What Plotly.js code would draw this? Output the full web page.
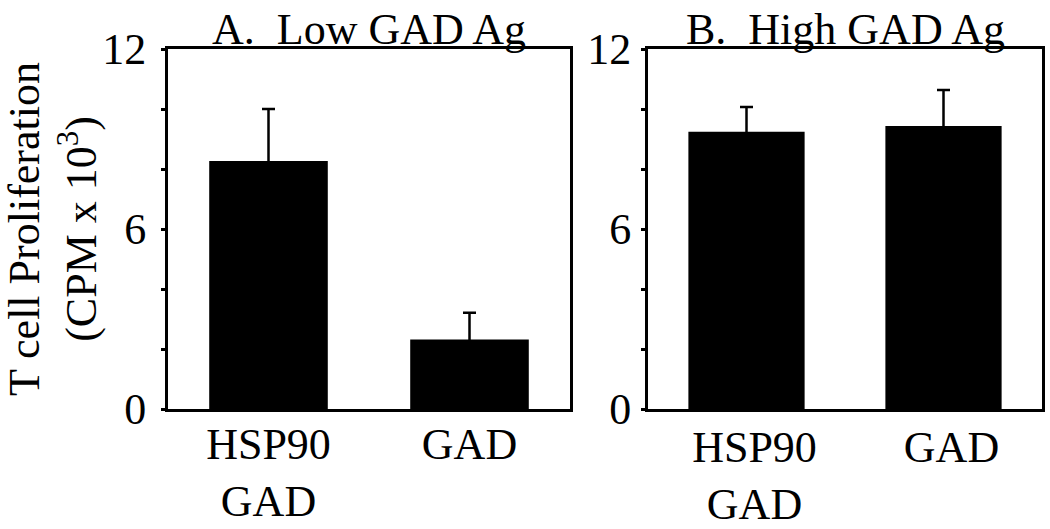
<!DOCTYPE html>
<html>
<head>
<meta charset="utf-8">
<script src="https://cdn.plot.ly/plotly-3.0.1.min.js"></script>
<style>html,body{margin:0;padding:0;background:#fff;}#chart{width:1050px;height:529px;}</style>
</head>
<body>
<div id="chart"></div>
<script>
// ---- data ----
const categories = ["HSP90<br>GAD", "GAD"];
const lowValues = [8.27, 2.32];
const lowErrors = [1.73, 0.89];
const highValues = [9.24, 9.43];
const highErrors = [0.83, 1.2];
const panelTitles = ["A.  Low GAD Ag", "B.  High GAD Ag"];
const yTickVals = [0, 2, 4, 6, 8, 10, 12];
const yTickText = ["0", "", "", "6", "", "", "12"];
const yTitle = "T cell Proliferation<br>(CPM x 10<sup>3</sup>)";

const FONT = "Liberation Serif, Times New Roman, serif";
const FS = 44;

function barTrace(vals, errs, xa, ya) {
  return {
    type: "bar",
    x: categories,
    y: vals,
    xaxis: xa,
    yaxis: ya,
    width: 0.59,
    marker: {color: "#000", line: {width: 0}},
    error_y: {
      // upper error only; the tiny lower offset just hides the lower cap inside the bar
      type: "data", symmetric: false, array: errs,
      arrayminus: errs.map(() => 0.08),
      color: "#000", thickness: 2.5, width: 6.5
    },
    showlegend: false,
    hoverinfo: "x+y"
  };
}

const data = [
  barTrace(lowValues, lowErrors, "x", "y"),
  barTrace(highValues, highErrors, "x2", "y2")
];

const W = 1050, H = 529;
const L = 168, R = 8, T = 49, B = 120;
const pw = W - L - R;
const dA = [0, (570 - L) / pw];
const dB = [(648 - L) / pw, 1];

function xAxis(domain, anchor, shift, standoff) {
  return {
    domain: domain, anchor: anchor, type: "category", range: [-0.5, 1.5],
    showline: true, mirror: true, linewidth: 3, linecolor: "#000",
    ticks: "", showgrid: false, zeroline: false,
    tickfont: {family: FONT, size: FS, color: "#000"},
    ticklabelshift: shift, ticklabelstandoff: standoff
  };
}
function yAxis(anchor, standoff, title) {
  const ax = {
    anchor: anchor, range: [0, 12], domain: [0, 1],
    showline: true, mirror: true, linewidth: 3, linecolor: "#000",
    tickvals: yTickVals, ticktext: yTickText,
    ticks: "outside", ticklen: 4, tickwidth: 3, tickcolor: "#000",
    showgrid: false, zeroline: false,
    tickfont: {family: FONT, size: FS, color: "#000"},
    ticklabelstandoff: standoff
  };
  if (title) {
    ax.title = {text: title, font: {family: FONT, size: FS, color: "#000"}, standoff: 16};
  }
  return ax;
}

const layout = {
  width: W, height: H,
  margin: {l: L, r: R, t: T, b: B, pad: 0},
  paper_bgcolor: "#fff", plot_bgcolor: "#fff",
  font: {family: FONT, size: FS, color: "#000"},
  xaxis: xAxis(dA, "y", 0, -6),
  yaxis: yAxis("x", 6, yTitle),
  xaxis2: xAxis(dB, "y2", 8, -3),
  yaxis2: yAxis("x2", 1, null),
  annotations: [
    {text: panelTitles[0], xref: "paper", yref: "paper", x: (dA[0] + dA[1]) / 2, y: 1,
     xanchor: "center", yanchor: "bottom", yshift: -7, showarrow: false,
     font: {family: FONT, size: FS, color: "#000"}},
    {text: panelTitles[1], xref: "paper", yref: "paper", x: (dB[0] + dB[1]) / 2, y: 1,
     xanchor: "center", yanchor: "bottom", yshift: -7, showarrow: false,
     font: {family: FONT, size: FS, color: "#000"}}
  ]
};

Plotly.newPlot("chart", data, layout, {displayModeBar: false, staticPlot: true});
</script>
</body>
</html>
